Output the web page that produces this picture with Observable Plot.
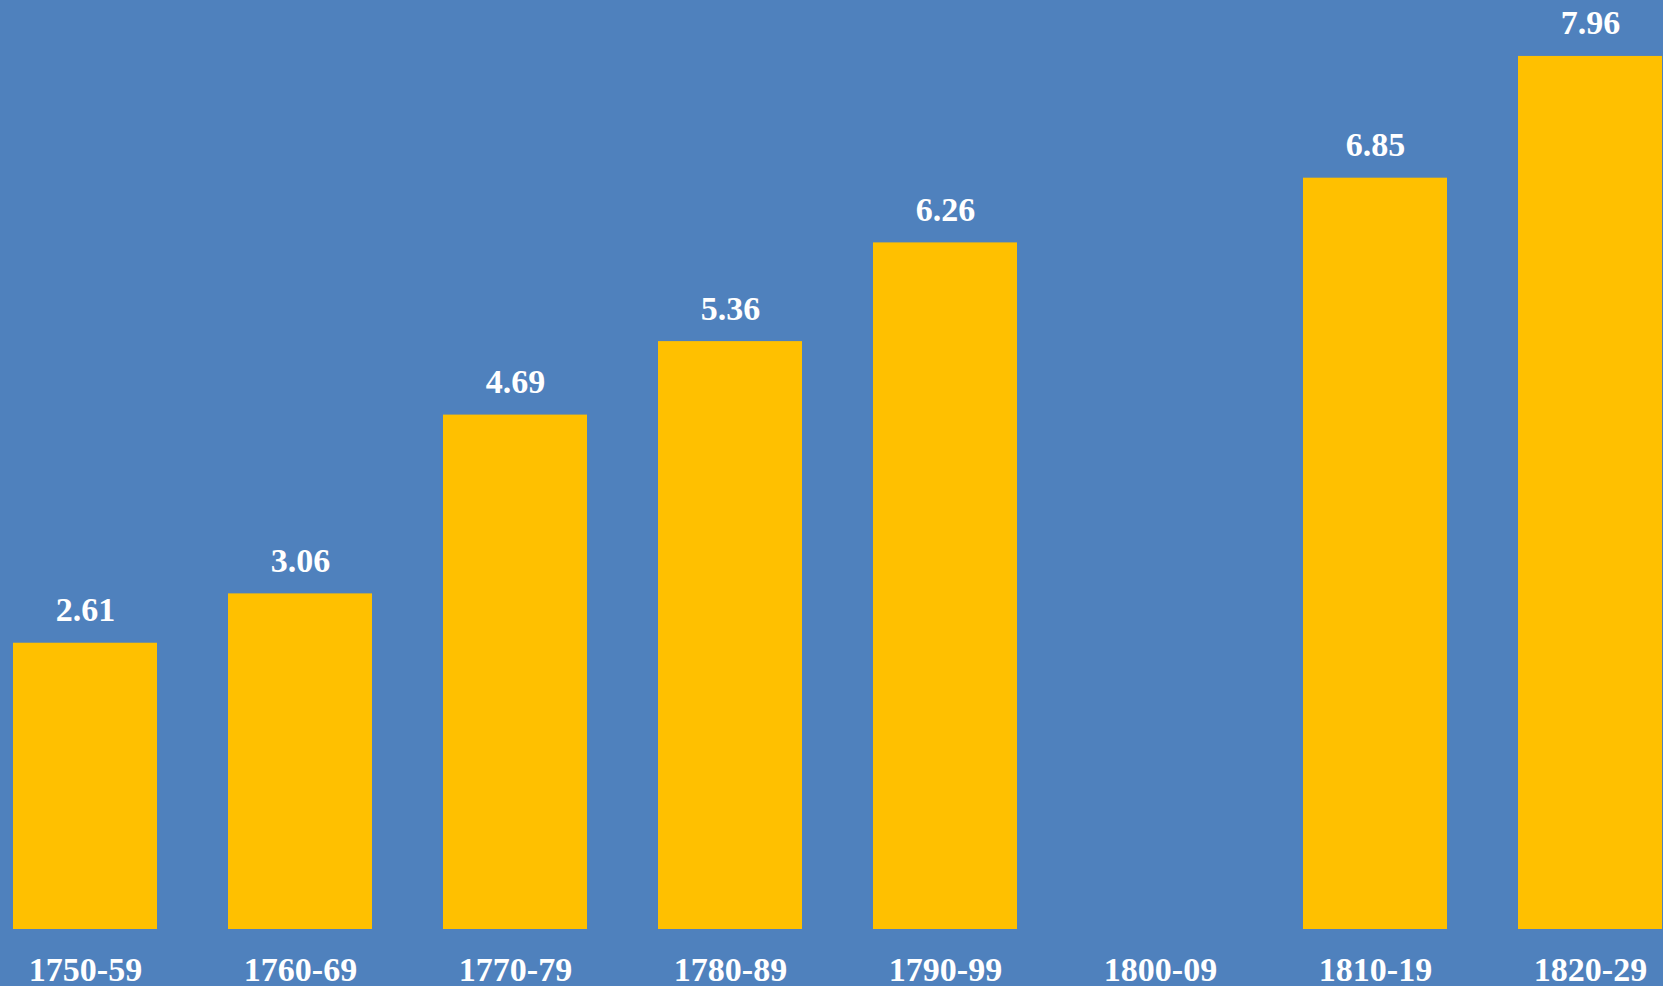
<!DOCTYPE html>
<html>
<head>
<meta charset="utf-8">
<script src="https://cdn.jsdelivr.net/npm/d3@7"></script>
<script src="https://cdn.jsdelivr.net/npm/@observablehq/plot@0.6"></script>
<style>
  html, body { margin: 0; padding: 0; background: #4F81BD; overflow: hidden; }
  #chart svg { display: block; }
</style>
</head>
<body>
<div id="chart"></div>
<script>
const categories = ["1750-59", "1760-69", "1770-79", "1780-89", "1790-99", "1800-09", "1810-19", "1820-29"];
const values = [2.61, 3.06, 4.69, 5.36, 6.26, null, 6.85, 7.96];
const labels = ["2.61", "3.06", "4.69", "5.36", "6.26", null, "6.85", "7.96"];

const data = categories.map((c, i) => ({cat: c, value: values[i], label: labels[i]}));
const present = data.filter(d => d.value != null);

const chart = Plot.plot({
  width: 1663,
  height: 986,
  marginTop: 0,
  marginRight: 0,
  marginLeft: 0,
  marginBottom: 57,
  style: {background: "#4F81BD", fontFamily: "'Liberation Serif', serif", color: "white"},
  x: {domain: categories, range: [-25, 1699], paddingInner: 0.332, paddingOuter: 0.166},
  y: {domain: [0, 8.47], axis: null},
  marks: [
    Plot.barY(present, {x: "cat", y: "value", fill: "#FFC000"}),
    Plot.text(present, {
      x: "cat", y: "value", text: "label",
      lineAnchor: "bottom", dy: -22,
      fill: "white", fontSize: 34, fontWeight: "bold",
      fontFamily: "'Liberation Serif', serif"
    }),
    Plot.axisX({
      tickSize: 0, tickPadding: 27, fontSize: 34, fontWeight: "bold",
      fill: "white", label: null,
      fontFamily: "'Liberation Serif', serif"
    })
  ]
});
document.getElementById("chart").appendChild(chart);
</script>
</body>
</html>
